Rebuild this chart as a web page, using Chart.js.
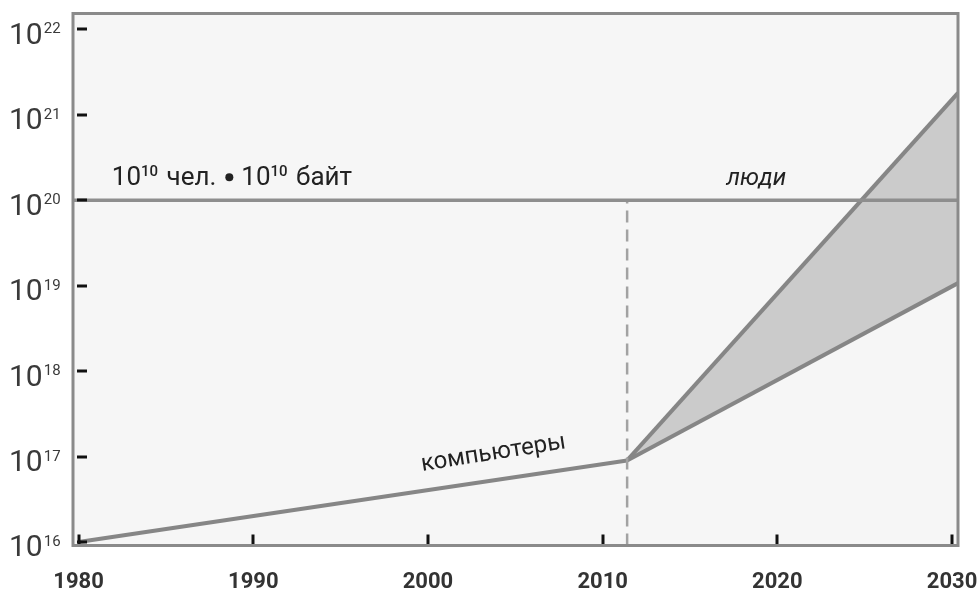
<!DOCTYPE html>
<html>
<head>
<meta charset="utf-8">
<script src="https://cdn.jsdelivr.net/npm/chart.js@4.4.1/dist/chart.umd.min.js"></script>
<style>
  html, body { margin: 0; padding: 0; background: #ffffff; }
  #wrap { width: 979px; height: 591px; }
</style>
</head>
<body>
<div id="wrap"><canvas id="c" width="979" height="591"></canvas></div>
<script>
// Axis ticks
const yearTicks = [1980, 1990, 2000, 2010, 2020, 2030];
const powerTicks = [16, 17, 18, 19, 20, 21, 22];

// Storage of all computers, bytes
const computerYears = [1980, 2011.4];
const computerBytes = [1e16, 9e16];

// Forecast corridor after the split year
const forecastYears = [2011.4, 2030.34];
const forecastHigh = [9e16, 1.8e21];
const forecastLow = [9e16, 1.07e19];

// Humanity: 10^10 people x 10^10 bytes
const humanYears = [1979.68, 2030.34];
const humanBytes = [1e20, 1e20];

const splitYear = 2011.4;

const X_MIN = 1979.68, X_MAX = 2030.34;
const Y_MIN = 9.1e15, Y_MAX = 1.53e22;

const FONT = 'Roboto, "Noto Sans", sans-serif';
const LINE = '#868686';

const pts = (xs, ys) => xs.map((x, i) => ({ x, y: ys[i] }));

const plotBackground = {
  id: 'plotBackground',
  beforeDraw(chart) {
    const { ctx, chartArea: a } = chart;
    ctx.save();
    ctx.fillStyle = '#f6f6f6';
    ctx.fillRect(a.left, a.top, a.right - a.left, a.bottom - a.top);
    ctx.restore();
  }
};

const frameAndLabels = {
  id: 'frameAndLabels',
  afterDatasetsDraw(chart) {
    const { ctx, chartArea: a } = chart;
    const xs = chart.scales.x, ys = chart.scales.y;
    ctx.save();

    // inner tick marks
    ctx.strokeStyle = '#111';
    ctx.lineWidth = 3;
    ctx.beginPath();
    powerTicks.forEach(p => {
      const y = Math.round(ys.getPixelForValue(Math.pow(10, p)));
      ctx.moveTo(a.left + 4, y);
      ctx.lineTo(a.left + 14, y);
    });
    yearTicks.forEach(yr => {
      const x = Math.round(xs.getPixelForValue(yr));
      ctx.moveTo(x, a.bottom - 11);
      ctx.lineTo(x, a.bottom);
    });
    ctx.stroke();

    // frame
    ctx.strokeStyle = '#8a8a8a';
    ctx.lineWidth = 3;
    ctx.strokeRect(a.left, a.top, a.right - a.left, a.bottom - a.top);

    // y labels: 10 with exponent
    ctx.fillStyle = '#3a3a3a';
    ctx.textBaseline = 'alphabetic';
    ctx.textAlign = 'left';
    powerTicks.forEach(p => {
      const y = ys.getPixelForValue(Math.pow(10, p));
      ctx.font = '400 30px ' + FONT;
      ctx.fillText('10', 9, y + 14.5);
      const w = ctx.measureText('10').width;
      ctx.font = '400 15px ' + FONT;
      ctx.fillText(String(p), 9 + w + 1, y + 4);
    });

    // annotation: 10^10 people x 10^10 bytes, with a round bullet between
    ctx.fillStyle = '#222';
    let x = xs.getPixelForValue(1981.9);
    const base = ys.getPixelForValue(1e20) - 15;
    const run = (t, s, dy, wgt, gap) => {
      ctx.font = wgt + ' ' + s + 'px ' + FONT;
      ctx.fillText(t, x, base + dy);
      x += ctx.measureText(t).width + gap;
    };
    run('10', 26, 0, '400', 0);
    run('10', 15, -9, '500', 2);
    run(' чел.', 26, 0, '400', 9);
    ctx.beginPath();
    ctx.arc(x + 4, base - 8, 4, 0, Math.PI * 2);
    ctx.fill();
    x += 16;
    run('10', 26, 0, '400', 0);
    run('10', 15, -9, '500', 2);
    run(' байт', 26, 0, '400', 0);

    // annotation: people
    ctx.font = 'italic 400 24px ' + FONT;
    ctx.textAlign = 'center';
    ctx.fillText('люди', xs.getPixelForValue(2018.8), base);
    ctx.restore();

    // annotation: computers, along the line
    ctx.save();
    ctx.fillStyle = '#222';
    ctx.font = '400 24px ' + FONT;
    ctx.textAlign = 'center';
    ctx.textBaseline = 'alphabetic';
    ctx.translate(xs.getPixelForValue(2003.8), ys.getPixelForValue(1e17) + 3);
    ctx.rotate(-9 * Math.PI / 180);
    ctx.fillText('компьютеры', 0, 0);
    ctx.restore();
  }
};

new Chart(document.getElementById('c'), {
  type: 'line',
  data: {
    datasets: [
      {
        data: pts(humanYears, humanBytes),
        borderColor: '#8e8e8e', borderWidth: 3.5, pointRadius: 0, fill: false
      },
      {
        data: [{ x: splitYear, y: Y_MIN }, { x: splitYear, y: 1e20 }],
        borderColor: '#a2a2a2', borderWidth: 2.5, borderDash: [12, 7],
        pointRadius: 0, fill: false
      },
      {
        data: pts(forecastYears, forecastHigh),
        borderColor: LINE, borderWidth: 4, pointRadius: 0,
        fill: '+1', backgroundColor: '#cbcbcb'
      },
      {
        data: pts(forecastYears, forecastLow),
        borderColor: LINE, borderWidth: 4, pointRadius: 0, fill: false
      },
      {
        data: pts(computerYears, computerBytes),
        borderColor: LINE, borderWidth: 4, pointRadius: 0, fill: false
      }
    ]
  },
  options: {
    responsive: false,
    devicePixelRatio: 1,
    animation: false,
    layout: { padding: { top: 13.5, right: 21, left: 0, bottom: 0 } },
    plugins: {
      legend: { display: false },
      tooltip: { enabled: false },
      filler: { drawTime: 'beforeDatasetsDraw' }
    },
    scales: {
      x: {
        type: 'linear', min: X_MIN, max: X_MAX,
        grid: { display: false }, border: { display: false },
        afterBuildTicks: s => { s.ticks = yearTicks.map(v => ({ value: v })); },
        afterFit: s => { s.height = 45.5; s.paddingLeft = 0; s.paddingRight = 0; },
        ticks: {
          padding: 16, color: '#333', maxRotation: 0, autoSkip: false,
          font: { family: FONT, size: 22, weight: '700' },
          callback: v => String(v)
        }
      },
      y: {
        type: 'logarithmic', min: Y_MIN, max: Y_MAX,
        grid: { display: false }, border: { display: false },
        afterBuildTicks: s => { s.ticks = powerTicks.map(p => ({ value: Math.pow(10, p) })); },
        afterFit: s => { s.width = 73; s.paddingTop = 0; s.paddingBottom = 0; },
        ticks: { display: false }
      }
    }
  },
  plugins: [plotBackground, frameAndLabels]
});
</script>
</body>
</html>
